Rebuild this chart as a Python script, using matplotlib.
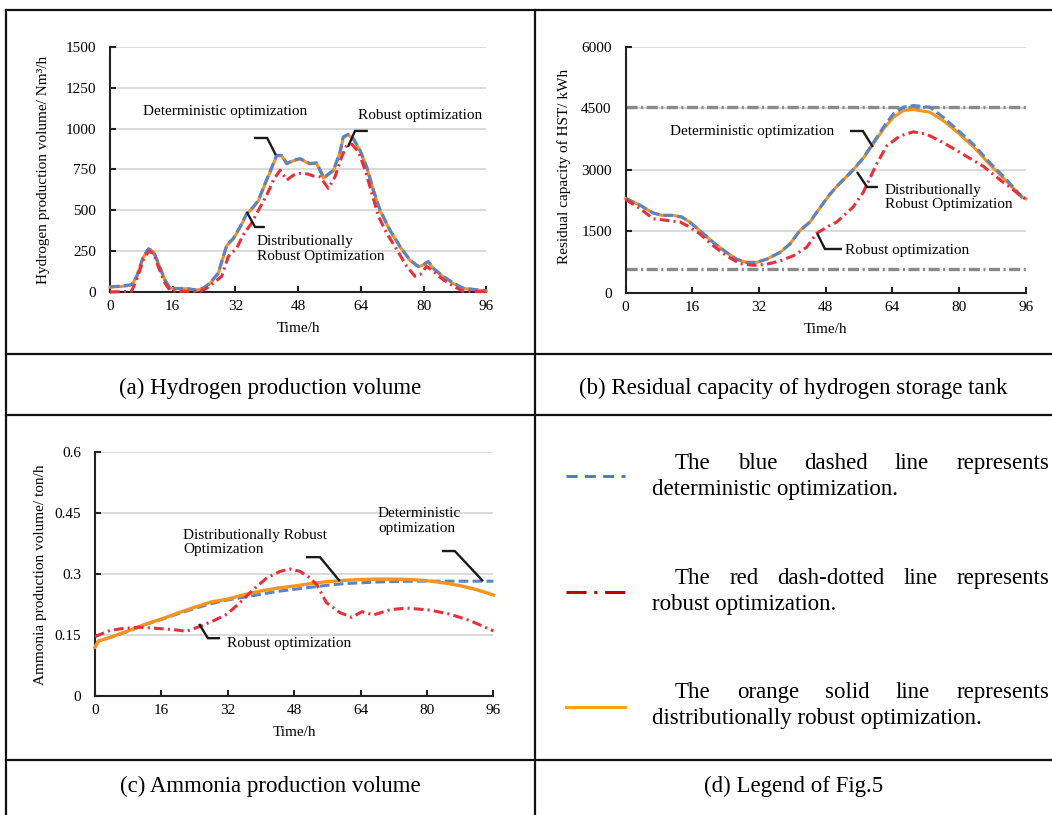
import matplotlib
matplotlib.use("Agg")
import matplotlib.pyplot as plt
from matplotlib.lines import Line2D

plt.rcParams['font.family'] = ['Liberation Serif', 'DejaVu Serif']
plt.rcParams['lines.scale_dashes'] = False

# ---------------- data ----------------
# (a) Hydrogen production volume (Nm3/h)
a_det_t = [0, 3, 5.5, 6.8, 8.5, 9.8, 11.1, 12.3, 14.0, 15.3, 17.0, 19.6, 22.1, 23.8, 25.5, 27.6,
           29.8, 31.5, 33.2, 34.9, 36.6, 37.9, 39.2, 40.8, 42.5, 43.8, 45.1, 46.8, 48.5, 51.0,
           52.7, 54.5, 57.0, 58.7, 59.5, 60.8, 62.1, 63.8, 65.5, 67.2, 68.9, 71.4, 74.0, 76.5,
           78.6, 79.9, 81.2, 82.5, 85.0, 87.6, 90.1, 93.5, 96]
a_det_v = [32, 36, 45, 95, 217, 265, 248, 177, 75, 24, 22, 22, 12, 24, 55, 116,
           289, 329, 400, 482, 522, 563, 644, 736, 837, 837, 787, 807, 817, 787,
           791, 700, 746, 858, 950, 966, 939, 868, 766, 624, 502, 380, 279, 197,
           157, 167, 187, 146, 96, 55, 24, 14, 8]
a_dro_v = [30, 34, 43, 92, 212, 262, 246, 175, 72, 22, 20, 20, 11, 22, 52, 112,
           285, 326, 396, 478, 519, 560, 640, 732, 833, 834, 784, 804, 814, 784,
           788, 697, 742, 853, 945, 962, 935, 864, 762, 620, 498, 377, 276, 194,
           155, 165, 184, 143, 93, 52, 22, 12, 6]
a_rob_t = [0, 3, 5.5, 6.8, 8.5, 9.8, 11.1, 12.3, 14.0, 15.3, 17, 20, 23, 24.7, 26.4, 28.5,
           30.2, 32.3, 34.0, 36.1, 37.9, 40.0, 41.7, 43.4, 45.1, 46.8, 48.5, 50.5, 51.9, 53.6,
           55.7, 57.4, 59.1, 60.4, 61.7, 63.4, 65.1, 66.8, 68.5, 70.6, 73.2, 75.7, 77.8, 79.1,
           80.8, 82.5, 85.0, 87.6, 90.1, 96]
a_rob_v = [0, 2, 5, 75, 197, 248, 238, 157, 55, 10, 4, 4, 4, 24, 55, 96,
           218, 268, 350, 421, 502, 594, 685, 746, 685, 716, 726, 722, 710, 705,
           634, 705, 827, 899, 905, 858, 746, 604, 462, 360, 258, 157, 96, 106,
           157, 126, 75, 35, 4, 2]

# (b) Residual capacity of HST (kWh)
b_t = [0, 3.45, 6.6, 8.7, 11.4, 13.5, 15.4, 17.8, 21.0, 24.2, 26.6, 29.0, 31.4, 33.8, 37.0,
       39.4, 41.8, 44.2, 46.6, 49.0, 50.6, 54.6, 57.0, 59.4, 61.8, 64.2, 66.6, 69.0, 73.0,
       76.2, 79.4, 83.4, 87.4, 91.4, 95.0, 96]
b_det_v = [2300, 2135, 1945, 1887, 1887, 1846, 1723, 1516, 1228, 981, 816, 740, 740, 816, 981,
           1187, 1516, 1723, 2070, 2400, 2588, 3000, 3288, 3659, 4030, 4360, 4524, 4565, 4524,
           4277, 3989, 3618, 3165, 2753, 2340, 2290]
b_dro_v = [2300, 2135, 1945, 1887, 1887, 1846, 1723, 1516, 1228, 981, 816, 740, 740, 816, 981,
           1187, 1516, 1723, 2070, 2400, 2588, 3000, 3280, 3630, 3989, 4277, 4442, 4467, 4400,
           4195, 3930, 3560, 3120, 2712, 2330, 2290]
b_rob_t = [0, 3.45, 6.6, 9.9, 13.1, 15.4, 17.8, 21.0, 24.2, 27.4, 30.6, 33.8, 37.0, 40.2, 43.4,
           45.8, 49.0, 50.6, 54.6, 57.0, 60.2, 62.6, 65.8, 69.0, 72.2, 76.2, 81.0, 85.8, 89.8,
           93.0, 95.0, 96]
b_rob_v = [2275, 2052, 1805, 1764, 1723, 1600, 1434, 1146, 899, 709, 668, 693, 775, 899, 1105,
           1449, 1640, 1720, 2094, 2450, 3140, 3577, 3824, 3923, 3865, 3659, 3371, 3082, 2753,
           2506, 2340, 2290]
b_limits = [4540, 580]

# (c) Ammonia production volume (ton/h)
c_t = [0, 0.8, 4, 8, 12, 16, 20, 24, 28, 32, 36, 40, 44, 48, 52, 56, 60, 64, 68, 72, 76, 80,
       84, 88, 92, 96]
c_det_v = [0.120, 0.135, 0.145, 0.159, 0.175, 0.188, 0.202, 0.215, 0.227, 0.236, 0.243, 0.250,
           0.257, 0.262, 0.267, 0.272, 0.276, 0.278, 0.280, 0.281, 0.282, 0.282, 0.282, 0.282,
           0.282, 0.282]
c_dro_v = [0.120, 0.135, 0.145, 0.160, 0.176, 0.189, 0.204, 0.218, 0.231, 0.238, 0.249, 0.258,
           0.265, 0.270, 0.276, 0.281, 0.284, 0.286, 0.287, 0.287, 0.286, 0.283, 0.278, 0.271,
           0.261, 0.248]
c_rob_t = [0, 3.6, 6.8, 10.8, 14.9, 18.9, 22.0, 25.3, 28.6, 31.8, 34.9, 38.2, 41.4, 44.6, 47.0,
           49.4, 51.5, 53.4, 55.8, 59.0, 61.9, 64.3, 67.1, 71.1, 75.1, 80.7, 85.5, 90.4, 96]
c_rob_v = [0.146, 0.161, 0.166, 0.169, 0.166, 0.163, 0.159, 0.171, 0.185, 0.201, 0.229, 0.262,
           0.290, 0.306, 0.312, 0.306, 0.292, 0.274, 0.229, 0.205, 0.193, 0.207, 0.199, 0.212,
           0.216, 0.211, 0.201, 0.185, 0.160]

x_ticks = [0, 16, 32, 48, 64, 80, 96]
a_yticks = [0, 250, 500, 750, 1000, 1250, 1500]
b_yticks = [0, 1500, 3000, 4500, 6000]
c_yticks = [0, 0.15, 0.3, 0.45, 0.6]
c_yticklabels = ["0", "0.15", "0.3", "0.45", "0.6"]

captions = ["(a) Hydrogen production volume",
            "(b) Residual capacity of hydrogen storage tank",
            "(c) Ammonia production volume",
            "(d) Legend of Fig.5"]

# ---------------- styles ----------------
BLUE, ORANGE, RED = '#5B84C4', '#F7941D', '#E8303C'
W, H = 1052, 815
fig = plt.figure(figsize=(W / 100, H / 100), dpi=100)


def fx(px):
    return px / W


def fy(py):
    return 1 - py / H


def add_axes(x0, x1, ytop, ybot):
    return fig.add_axes([x0 / W, 1 - ybot / H, (x1 - x0) / W, (ybot - ytop) / H])


def style(ax, ymax, yticks, ylabel, ylab_x, ylab_y, hpx, yticklabels=None):
    ax.set_xlim(0, 96)
    ax.set_ylim(0, ymax)
    ax.set_xticks(x_ticks)
    ax.set_yticks(yticks)
    if yticklabels is not None:
        ax.set_yticklabels(yticklabels)
    ax.set_facecolor('none')
    for s in ('top', 'right'):
        ax.spines[s].set_visible(False)
    for s in ('left', 'bottom'):
        ax.spines[s].set_linewidth(1.5)
        ax.spines[s].set_color('#222222')
    ax.yaxis.grid(True, color='#d4d4d4', lw=1.2)
    ax.set_axisbelow(True)
    ax.tick_params(direction='in', length=4, width=1.5, labelsize=11, color='#222222')
    ax.tick_params(axis='y', pad=10)
    ax.tick_params(axis='x', pad=6)
    ax.set_xlabel('Time/h', fontsize=11, va='center')
    ax.xaxis.set_label_coords(0.5, -37 / hpx)
    ax.set_ylabel(ylabel, fontsize=11, va='center')
    ax.yaxis.set_label_coords(ylab_x, ylab_y)


def leader(ax, xs, ys):
    ax.plot(xs, ys, color='#1a1a1a', lw=1.7, clip_on=False, zorder=6,
            solid_capstyle='butt', solid_joinstyle='miter')


# ---------------- panel (a) ----------------
axA = add_axes(110, 486.3, 47, 292)
style(axA, 1500, a_yticks, 'Hydrogen production volume/ Nm\u00b3/h', -0.178, 0.5, 245)
axA.plot(a_det_t, a_dro_v, color=ORANGE, lw=2.2, zorder=3, clip_on=False)
axA.plot(a_det_t, a_det_v, color=BLUE, lw=2.2, dashes=(7, 3), zorder=4, clip_on=False)
axA.plot(a_rob_t, a_rob_v, color=RED, lw=2.2, dashes=(7, 3, 1.5, 3), zorder=5, clip_on=False)
axA.text(8.4, 1108, 'Deterministic optimization', fontsize=11, ha='left', va='center')
axA.text(63.3, 1078, 'Robust optimization', fontsize=11, ha='left', va='center')
axA.text(37.5, 263, 'Distributionally\nRobust Optimization', fontsize=11, ha='left',
         va='center', linespacing=1.12)
leader(axA, [36.7, 40.1, 42.3], [943, 943, 839])
leader(axA, [65.8, 62.5, 60.7], [986, 986, 888])
leader(axA, [34.9, 37.0, 39.5], [490, 398, 398])

# ---------------- panel (b) ----------------
axB = add_axes(625.6, 1025.9, 46.7, 292.7)
style(axB, 6000, b_yticks, 'Residual capacity of HST/ kWh', -0.154, 0.515, 246)
for lim in b_limits:
    axB.axhline(lim, color='#8a8a8a', lw=2.4, dashes=(8, 2.5, 1.5, 2.5), zorder=2)
axB.plot(b_t, b_dro_v, color=ORANGE, lw=2.2, zorder=3, clip_on=False)
axB.plot(b_t, b_det_v, color=BLUE, lw=2.2, dashes=(7, 3), zorder=4, clip_on=False)
axB.plot(b_rob_t, b_rob_v, color=RED, lw=2.2, dashes=(7, 3, 1.5, 3), zorder=5, clip_on=False)
axB.text(10.6, 3920, 'Deterministic optimization', fontsize=11, ha='left', va='center')
axB.text(62.2, 2322, 'Distributionally\nRobust Optimization', fontsize=11, ha='left',
         va='center', linespacing=1.12)
axB.text(52.6, 1041, 'Robust optimization', fontsize=11, ha='left', va='center')
leader(axB, [53.8, 56.9, 59.3], [3944, 3944, 3554])
leader(axB, [55.5, 57.9, 60.5], [2944, 2578, 2578])
leader(axB, [45.9, 47.8, 51.9], [1456, 1066, 1066])

# ---------------- panel (c) ----------------
axC = add_axes(95, 493.4, 451.7, 696)
style(axC, 0.6, c_yticks, 'Ammonia production volume/ ton/h', -0.138, 0.497, 244.3,
      c_yticklabels)
axC.plot(c_t, c_det_v, color=BLUE, lw=2.2, dashes=(7, 3), zorder=3, clip_on=False)
axC.plot(c_t, c_dro_v, color=ORANGE, lw=2.4, zorder=4, clip_on=False)
axC.plot(c_rob_t, c_rob_v, color=RED, lw=2.2, dashes=(7, 3, 1.5, 3), zorder=5, clip_on=False)
axC.text(68.2, 0.430, 'Deterministic\noptimization', fontsize=11, ha='left', va='center',
         linespacing=1.12)
axC.text(21.2, 0.377, 'Distributionally Robust\nOptimization', fontsize=11, ha='left',
         va='center', linespacing=1.12)
axC.text(31.8, 0.130, 'Robust optimization', fontsize=11, ha='left', va='center')
leader(axC, [83.6, 86.7, 93.5], [0.356, 0.356, 0.282])
leader(axC, [50.8, 54.2, 59.0], [0.341, 0.341, 0.282])
leader(axC, [25.1, 27.2, 30.1], [0.177, 0.142, 0.142])

# ---------------- table frame ----------------
def fline(xs, ys, lw=1.6):
    fig.add_artist(Line2D([fx(x) for x in xs], [fy(y) for y in ys], color='#111111', lw=lw))


for yy in (10, 354, 415, 760):
    fline([6, 1052], [yy, yy])
fline([6, 6], [10, 815])
fline([535, 535], [10, 815])

CAP_FS = 16.5
fig.text(fx(270), fy(388), captions[0], ha='center', va='center', fontsize=CAP_FS)
fig.text(fx(793.5), fy(388), captions[1], ha='center', va='center', fontsize=CAP_FS)
fig.text(fx(270), fy(786), captions[2], ha='center', va='center', fontsize=CAP_FS)
fig.text(fx(793.5), fy(786), captions[3], ha='center', va='center', fontsize=CAP_FS)

# ---------------- legend panel (d) ----------------
fig.add_artist(Line2D([fx(566), fx(625)], [fy(476), fy(476)], color='#4472C4', lw=2.0,
                      dashes=(8, 5.2)))
fig.add_artist(Line2D([fx(566), fx(625)], [fy(592), fy(592)], color='#C00000', lw=2.2,
                      dashes=(14.4, 5.6, 2.2, 5.6)))
fig.add_artist(Line2D([fx(566), fx(625)], [fy(707), fy(707)], color='#FFA500', lw=2.2))

renderer = fig.canvas.get_renderer()


def justified(words, x0, x1, ybase):
    texts = [fig.text(0, 0, w, fontsize=CAP_FS, ha='left', va='baseline') for w in words]
    widths = [t.get_window_extent(renderer).width for t in texts]
    gap = (x1 - x0 - sum(widths)) / (len(words) - 1)
    x = x0
    for t, w in zip(texts, widths):
        t.set_position((fx(x), fy(ybase)))
        x += w + gap


legend_rows = [
    ("The blue dashed line represents", "deterministic optimization.", 469),
    ("The red dash-dotted line represents", "robust optimization.", 584),
    ("The orange solid line represents", "distributionally robust optimization.", 698),
]
for first, second, yb in legend_rows:
    justified(first.split(), 675, 1049, yb)
    fig.text(fx(652), fy(yb + 26), second, fontsize=CAP_FS, ha='left', va='baseline')

fig.savefig('out.png', dpi=100)
